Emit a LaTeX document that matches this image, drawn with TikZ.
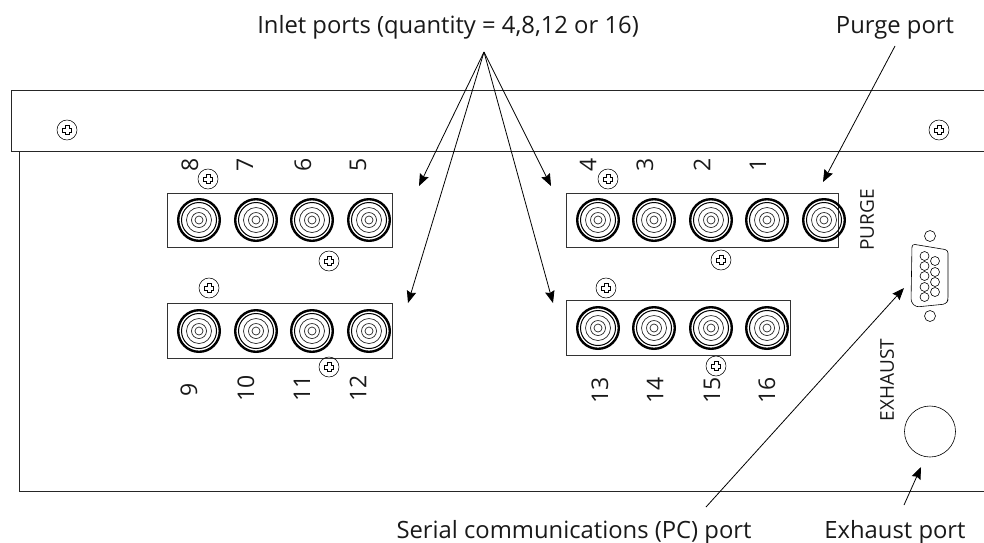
\documentclass[tikz,border=0pt]{standalone}
\usepackage{fontspec}
\setmainfont{Open Sans}
\usetikzlibrary{arrows.meta}
\tikzset{
  x=1pt,y=-1pt,
  panel/.style={line width=1pt,draw=black!85},
  portbox/.style={draw=black!80,line width=0.7pt},
  lbl/.style={font=\fontsize{23.8}{28}\selectfont,inner sep=0pt,text=black!90,anchor=base},
  num/.style={font=\fontsize{23}{28}\selectfont,inner sep=0pt,rotate=90,text=black!90},
  captxt/.style={font=\fontsize{19}{22}\selectfont,inner sep=0pt,rotate=90,text=black!90},
  pointer/.style={line width=0.8pt,-{Stealth[length=12pt,width=9.5pt,inset=1.5pt]}},
  thin ring/.style={line width=0.7pt,draw=black!85},
  port/.pic={
    \draw[line width=2.4pt] (0,0) circle[radius=20.8];
    \draw[line width=1pt] (0,0) circle[radius=17.5];
    \draw[thin ring] (0,0) circle[radius=12.5];
    \draw[thin ring] (0,0) circle[radius=7.5];
    \draw[thin ring] (0,0) circle[radius=4];
  },
  screw/.pic={
    \draw[line width=0.55pt] (0,0) circle[radius=10];
    \draw[line width=0.55pt] (-1.8,-4.6)--(1.8,-4.6)--(1.8,-1.8)--(4.6,-1.8)--(4.6,1.8)--(1.8,1.8)--(1.8,4.6)--(-1.8,4.6)--(-1.8,1.8)--(-4.6,1.8)--(-4.6,-1.8)--(-1.8,-1.8)--cycle;
  },
}
\begin{document}
\begin{tikzpicture}
\useasboundingbox (0,0) rectangle (984,542);
% panels
\draw[panel] (984,90)--(11,90)--(11,151)--(984,151);
\draw[panel] (19,151)--(19,491)--(984,491);
% port boxes
\node[portbox,minimum width=225,minimum height=54,inner sep=0,anchor=north west] (boxA) at (167,193) {};
\node[portbox,minimum width=225,minimum height=55,inner sep=0,anchor=north west] (boxB) at (167,303) {};
\node[portbox,minimum width=272,minimum height=54,inner sep=0,anchor=north west] (boxC) at (566,193) {};
\node[portbox,minimum width=224,minimum height=55,inner sep=0,anchor=north west] (boxD) at (566,300) {};
\foreach \x in {199,256,312,369}{\pic at (\x,220) {port}; \pic at (\x,331) {port};}
\foreach \x in {598,654,711,767,824}{\pic at (\x,220) {port};}
\foreach \x in {598,654,711,767}{\pic at (\x,328) {port};}
% screws
\foreach \p in {(67,130),(939,130),(208,179),(329,261),(209,288),(329,367),(608,179),(721,260),(606,288),(716,366)}{\pic at \p {screw};}
% numbers
\foreach \x/\t in {190/8,245/7,303/6,358/5,588/4,645/3,702/2,758/1}{\node[num] (n\t) at (\x,165) {\t};}
\node[num] (n9) at (189,390) {9};
\foreach \x/\t in {246/10,302/11,358/12}{\node[num] (n\t) at (\x,388) {\t};}
\foreach \x/\t in {600/13,655/14,712/15,767/16}{\node[num] (n\t) at (\x,390) {\t};}
\node[captxt] (purge) at (867,220) {PURGE};
\node[captxt] (exhaust) at (887,380) {EXHAUST};
% DB9
\draw[line width=0.6pt,rounded corners=3pt] (912,244)--(948,250)--(948,300)--(946,304)--(916,307)--(911,302)--cycle;
\draw[line width=0.6pt] (930,236) circle[radius=5.5];
\draw[line width=0.6pt] (930,316) circle[radius=5.5];
\foreach \y in {256,266,276,287,297}{\draw[line width=0.6pt] (924.5,\y) circle[radius=4.5];}
\foreach \y in {261,272,282,292}{\draw[line width=0.6pt] (935,\y) circle[radius=4.5];}
% exhaust port
\node[draw,circle,line width=0.6pt,minimum size=51,inner sep=0] (exh) at (930,431.5) {};
% labels
\node[lbl] (inlet) at (448,33) {Inlet ports (quantity = 4,8,12 or 16)};
\node[lbl] (purgelbl) at (895,33) {Purge port};
\node[lbl] (serial) at (574,538) {Serial communications (PC) port};
\node[lbl] (exlbl) at (895,538) {Exhaust port};
% arrows
\coordinate (apex) at (484,52);
\coordinate (ta) at (419,186);
\coordinate (tb) at (408,303);
\coordinate (tc) at (551,186);
\coordinate (td) at (553,303);
\coordinate (tp) at (823,182);
\coordinate (tp0) at (895,46);
\coordinate (ts) at (904,288);
\coordinate (ts0) at (706,507);
\coordinate (te) at (921,467);
\coordinate (te0) at (904,505);
\foreach \t in {ta,tb,tc,td}{\draw[pointer] (apex)--(\t);}
\draw[pointer] (tp0)--(tp);
\draw[pointer] (ts0)--(ts);
\draw[pointer] (te0)--(te);
\end{tikzpicture}
\end{document}
